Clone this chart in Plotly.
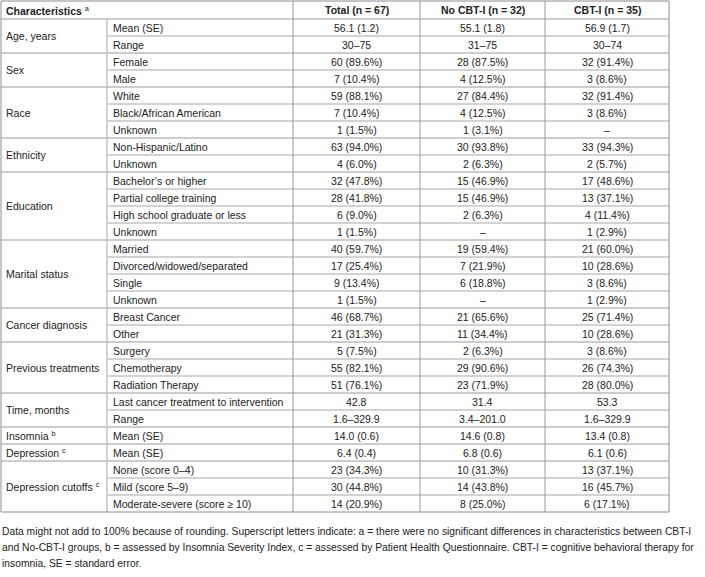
import plotly.graph_objects as go

# ---------------- data ----------------
header = ["Characteristics", "Total (n = 67)", "No CBT-I (n = 32)", "CBT-I (n = 35)"]
header_sup = "a"

groups = ["Age, years", "Sex", "Race", "Ethnicity", "Education", "Marital status",
          "Cancer diagnosis", "Previous treatments", "Time, months", "Insomnia",
          "Depression", "Depression cutoffs"]
group_sup = ["", "", "", "", "", "", "", "", "", "b", "c", "c"]
group_sizes = [2, 2, 3, 2, 4, 4, 2, 3, 2, 1, 1, 3]

subrows = ["Mean (SE)", "Range",
           "Female", "Male",
           "White", "Black/African American", "Unknown",
           "Non-Hispanic/Latino", "Unknown",
           "Bachelor’s or higher", "Partial college training", "High school graduate or less", "Unknown",
           "Married", "Divorced/widowed/separated", "Single", "Unknown",
           "Breast Cancer", "Other",
           "Surgery", "Chemotherapy", "Radiation Therapy",
           "Last cancer treatment to intervention", "Range",
           "Mean (SE)",
           "Mean (SE)",
           "None (score 0–4)", "Mild (score 5–9)", "Moderate-severe (score ≥ 10)"]

total = ["56.1 (1.2)", "30–75",
         "60 (89.6%)", "7 (10.4%)",
         "59 (88.1%)", "7 (10.4%)", "1 (1.5%)",
         "63 (94.0%)", "4 (6.0%)",
         "32 (47.8%)", "28 (41.8%)", "6 (9.0%)", "1 (1.5%)",
         "40 (59.7%)", "17 (25.4%)", "9 (13.4%)", "1 (1.5%)",
         "46 (68.7%)", "21 (31.3%)",
         "5 (7.5%)", "55 (82.1%)", "51 (76.1%)",
         "42.8", "1.6–329.9",
         "14.0 (0.6)",
         "6.4 (0.4)",
         "23 (34.3%)", "30 (44.8%)", "14 (20.9%)"]

no_cbti = ["55.1 (1.8)", "31–75",
           "28 (87.5%)", "4 (12.5%)",
           "27 (84.4%)", "4 (12.5%)", "1 (3.1%)",
           "30 (93.8%)", "2 (6.3%)",
           "15 (46.9%)", "15 (46.9%)", "2 (6.3%)", "–",
           "19 (59.4%)", "7 (21.9%)", "6 (18.8%)", "–",
           "21 (65.6%)", "11 (34.4%)",
           "2 (6.3%)", "29 (90.6%)", "23 (71.9%)",
           "31.4", "3.4–201.0",
           "14.6 (0.8)",
           "6.8 (0.6)",
           "10 (31.3%)", "14 (43.8%)", "8 (25.0%)"]

cbti = ["56.9 (1.7)", "30–74",
        "32 (91.4%)", "3 (8.6%)",
        "32 (91.4%)", "3 (8.6%)", "–",
        "33 (94.3%)", "2 (5.7%)",
        "17 (48.6%)", "13 (37.1%)", "4 (11.4%)", "1 (2.9%)",
        "21 (60.0%)", "10 (28.6%)", "3 (8.6%)", "1 (2.9%)",
        "25 (71.4%)", "10 (28.6%)",
        "3 (8.6%)", "26 (74.3%)", "28 (80.0%)",
        "53.3", "1.6–329.9",
        "13.4 (0.8)",
        "6.1 (0.6)",
        "13 (37.1%)", "16 (45.7%)", "6 (17.1%)"]

footnote_lines = [
    "Data might not add to 100% because of rounding. Superscript letters indicate: a = there were no significant differences in characteristics between CBT-I",
    "and No-CBT-I groups, b = assessed by Insomnia Severity Index, c = assessed by Patient Health Questionnaire. CBT-I = cognitive behavioral therapy for",
    "insomnia, SE = standard error.",
]

# ---------------- layout constants ----------------
W, H = 705, 577
col_edges = [1, 107, 293, 420, 545, 669]
top = 1
header_h = 18
row_h = 17
FONT = "Liberation Sans, Arial, sans-serif"
FS = 10.5
FS_NOTE = 10.3
TXT = "#222222"
GROUP_LINE = "#9a9a9a"
SUB_LINE = "#c4c4c4"

n_rows = len(subrows)
body_top = top + header_h
bottom = body_top + n_rows * row_h


def row_y(i):
    return body_top + (i + 0.5) * row_h


fig = go.Figure()
fig.add_trace(go.Scatter(x=[0, W], y=[0, H], mode="markers",
                         marker=dict(opacity=0), hoverinfo="skip", showlegend=False))

shapes = []
annotations = []
font = dict(family=FONT, size=FS, color=TXT)

# header
annotations.append(dict(x=col_edges[0] + 3, y=top + header_h / 2, xanchor="left", yanchor="middle",
                        text="<b>%s</b> <sup>%s</sup>" % (header[0], header_sup), showarrow=False,
                        font=font))
for k in range(1, 4):
    cx = (col_edges[k + 1] + col_edges[k + 2]) / 2
    annotations.append(dict(x=cx, y=top + header_h / 2, xanchor="center", yanchor="middle",
                            text="<b>%s</b>" % header[k], showarrow=False, font=font))

# body
start = 0
group_starts = []
for g, size in enumerate(group_sizes):
    group_starts.append(start)
    gy = body_top + (start + size / 2) * row_h
    label = groups[g] + (" <sup>%s</sup>" % group_sup[g] if group_sup[g] else "")
    annotations.append(dict(x=col_edges[0] + 3, y=gy, xanchor="left", yanchor="middle",
                            text=label, showarrow=False, font=font))
    start += size

for i in range(n_rows):
    y = row_y(i)
    annotations.append(dict(x=col_edges[1] + 4, y=y, xanchor="left", yanchor="middle",
                            text=subrows[i], showarrow=False, font=font))
    for k, col in enumerate([total, no_cbti, cbti]):
        cx = (col_edges[k + 2] + col_edges[k + 3]) / 2
        annotations.append(dict(x=cx, y=y, xanchor="center", yanchor="middle",
                                text=col[i], showarrow=False, font=font))

# horizontal lines
for i in range(1, n_rows):
    y = body_top + i * row_h
    if i in group_starts:
        shapes.append(dict(type="line", x0=col_edges[0], x1=col_edges[-1], y0=y, y1=y,
                           line=dict(color=GROUP_LINE, width=1)))
    else:
        shapes.append(dict(type="line", x0=col_edges[1], x1=col_edges[-1], y0=y, y1=y,
                           line=dict(color=SUB_LINE, width=1.5)))
shapes.append(dict(type="line", x0=col_edges[0], x1=col_edges[-1], y0=body_top, y1=body_top,
                   line=dict(color=GROUP_LINE, width=1)))

# vertical lines
shapes.append(dict(type="line", x0=col_edges[1], x1=col_edges[1], y0=body_top, y1=bottom,
                   line=dict(color=SUB_LINE, width=1.5)))
for k in range(2, 5):
    shapes.append(dict(type="line", x0=col_edges[k], x1=col_edges[k], y0=top, y1=bottom,
                       line=dict(color=GROUP_LINE, width=1)))

# outer border
shapes.append(dict(type="rect", x0=col_edges[0], x1=col_edges[-1], y0=top, y1=bottom,
                   line=dict(color="#8c8c8c", width=1)))

# footnote
for j, line in enumerate(footnote_lines):
    annotations.append(dict(x=col_edges[0] - 1, y=bottom + 19 + j * 16, xanchor="left", yanchor="middle",
                            text=line, showarrow=False, align="left",
                            font=dict(family=FONT, size=FS_NOTE, color=TXT)))

fig.update_layout(
    width=W, height=H,
    margin=dict(l=0, r=0, t=0, b=0),
    paper_bgcolor="white", plot_bgcolor="white",
    xaxis=dict(range=[0, W], visible=False, fixedrange=True),
    yaxis=dict(range=[H, 0], visible=False, fixedrange=True),
    shapes=shapes, annotations=annotations,
)

fig.write_html("out.html", config={"displayModeBar": False},
               post_script="document.body.style.margin='0';document.body.style.overflow='hidden';")
